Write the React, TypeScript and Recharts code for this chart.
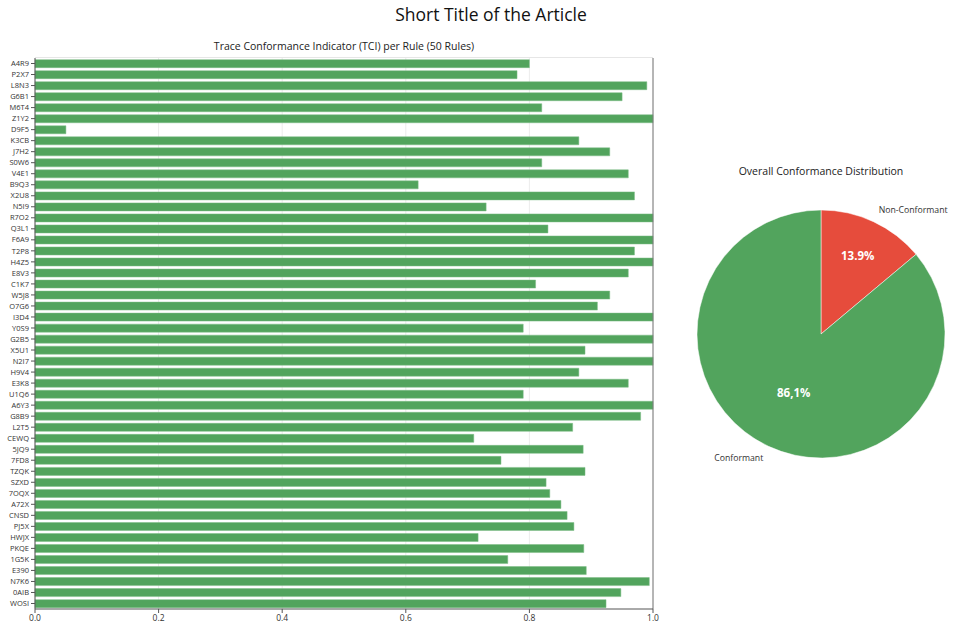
import { Bar, BarChart, CartesianGrid, Cell, Pie, PieChart, ReferenceLine, XAxis, YAxis } from "recharts";

const rules = [
  "A4R9", "P2X7", "L8N3", "G6B1", "M6T4", "Z1Y2", "D9F5", "K3CB", "J7H2", "S0W6",
  "V4E1", "B9Q3", "X2U8", "N5I9", "R7O2", "Q3L1", "F6A9", "T2P8", "H4Z5", "E8V3",
  "C1K7", "W5J8", "O7G6", "I3D4", "Y0S9", "G2B5", "X5U1", "N2I7", "H9V4", "E3K8",
  "U1Q6", "A6Y3", "G8B9", "L2T5", "CEWQ", "5JQ9", "7FD8", "TZQK", "SZXD", "7OQX",
  "A72X", "CNSD", "PJ5X", "HWJX", "PKQE", "1G5K", "E390", "N7K6", "0AIB", "WOSI",
];

const tci = [
  0.8, 0.78, 0.99, 0.95, 0.82, 1.0, 0.05, 0.88, 0.93, 0.82,
  0.96, 0.62, 0.97, 0.73, 1.0, 0.83, 1.0, 0.97, 1.0, 0.96,
  0.81, 0.93, 0.91, 1.0, 0.79, 1.0, 0.89, 1.0, 0.88, 0.96,
  0.79, 1.0, 0.98, 0.87, 0.71, 0.887, 0.754, 0.89, 0.827, 0.833,
  0.851, 0.861, 0.872, 0.717, 0.888, 0.765, 0.892, 0.994, 0.948, 0.924,
];

const xTicks = [0, 0.2, 0.4, 0.6, 0.8, 1.0];

const sliceNames = ["Non-Conformant", "Conformant"];
const sliceValues = [13.9, 86.1];
const sliceLabels = ["13.9%", "86,1%"];
const sliceColors = ["#e64c3c", "#52a45d"];

const barData = rules.map((rule, i) => ({ rule, tci: tci[i] }));
const pieData = sliceNames.map((name, i) => ({ name, value: sliceValues[i] }));

const FONT = "'Open Sans', sans-serif";
const RADIAN = Math.PI / 180;
const pctRadius = [0.7, 0.52];

function renderSliceLabel(props: any) {
  const { cx, cy, midAngle, outerRadius, index } = props;
  const cos = Math.cos(-midAngle * RADIAN);
  const sin = Math.sin(-midAngle * RADIAN);
  const ox = cx + outerRadius * 1.1 * cos;
  const oy = cy + outerRadius * 1.1 * sin;
  const ir = outerRadius * pctRadius[index];
  const ix = cx + ir * cos;
  const iy = cy + ir * sin;
  return (
    <g>
      <text
        x={ox}
        y={oy}
        textAnchor={cos >= 0 ? "start" : "end"}
        dominantBaseline="central"
        fontSize={8.7}
        fontFamily={FONT}
        fill="#333"
      >
        {sliceNames[index]}
      </text>
      <text
        x={ix}
        y={iy}
        textAnchor="middle"
        dominantBaseline="central"
        fontSize={11.5}
        fontWeight="bold"
        fontFamily={FONT}
        fill="#fff"
      >
        {sliceLabels[index]}
      </text>
    </g>
  );
}

export default function App() {
  return (
    <div style={{ position: "absolute", left: 0, top: 0, width: 957, height: 632, background: "#fff", fontFamily: FONT }}>
      <div style={{ position: "absolute", left: 0, top: 2, width: 982, textAlign: "center", fontSize: 17.5, color: "#111" }}>
        Short Title of the Article
      </div>
      <div style={{ position: "absolute", left: 35, top: 39, width: 618, textAlign: "center", fontSize: 10.5, color: "#222" }}>
        Trace Conformance Indicator (TCI) per Rule (50 Rules)
      </div>
      <div style={{ position: "absolute", left: 35, top: 57, width: 618, borderTop: "1px solid #e6e6e6" }} />

      <div style={{ position: "absolute", left: 0, top: 0 }}>
        <BarChart
          width={700}
          height={632}
          data={barData}
          layout="vertical"
          margin={{ top: 58, right: 47, left: 0, bottom: 0 }}
          barCategoryGap="15%"
        >
          <CartesianGrid horizontal={false} stroke="#ececec" />
          <XAxis
            type="number"
            domain={[0, 1]}
            ticks={xTicks}
            tickFormatter={(v: number) => v.toFixed(1)}
            height={23}
            tick={{ fontSize: 8.5, fill: "#333", fontFamily: FONT }}
            tickSize={4}
            stroke="#555"
          />
          <YAxis
            type="category"
            dataKey="rule"
            width={35}
            interval={0}
            tick={{ fontSize: 7.5, fill: "#333", fontFamily: FONT }}
            tickSize={4}
            stroke="#555"
          />
          <ReferenceLine x={1} stroke="#777" />
          <Bar dataKey="tci" fill="#52a45d" stroke="#7dbd86" strokeWidth={0.5} isAnimationActive={false} />
        </BarChart>
      </div>

      <div style={{ position: "absolute", left: 690, top: 164, width: 262, textAlign: "center", fontSize: 10.5, color: "#222" }}>
        Overall Conformance Distribution
      </div>
      <div style={{ position: "absolute", left: 690, top: 0 }}>
        <PieChart width={267} height={632} margin={{ top: 0, right: 0, bottom: 0, left: 0 }}>
          <Pie
            data={pieData}
            dataKey="value"
            nameKey="name"
            cx={131}
            cy={334}
            outerRadius={124}
            startAngle={90}
            endAngle={-270}
            stroke="#fff"
            strokeWidth={0.5}
            label={renderSliceLabel}
            labelLine={false}
            isAnimationActive={false}
          >
            {pieData.map((d, i) => (
              <Cell key={d.name} fill={sliceColors[i]} />
            ))}
          </Pie>
        </PieChart>
      </div>
    </div>
  );
}
